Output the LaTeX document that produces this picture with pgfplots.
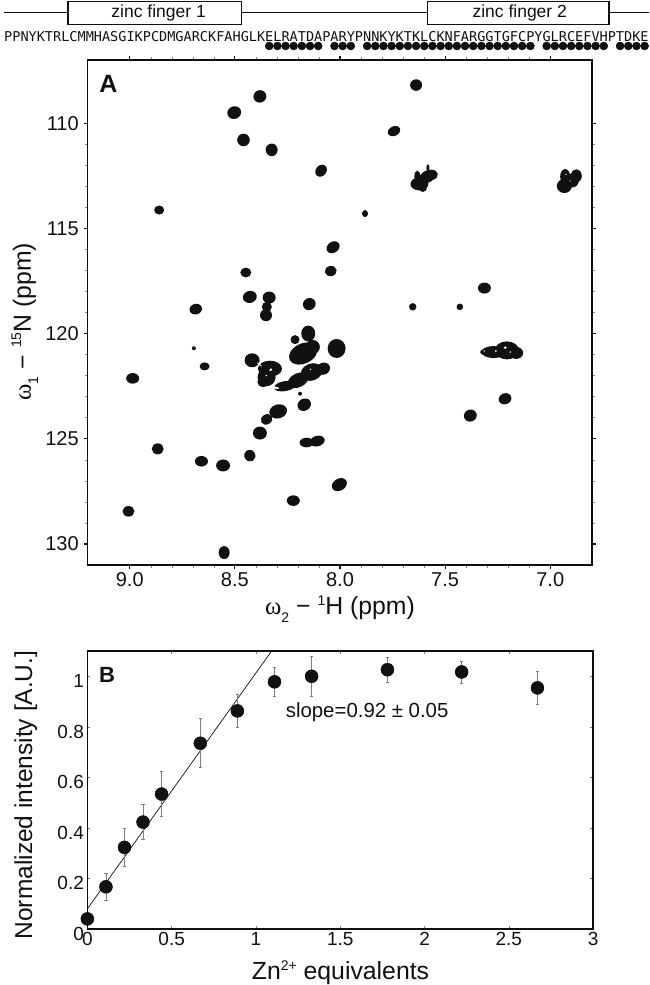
\documentclass[border=0pt]{standalone}
\usepackage{fontspec}
\setmainfont{Liberation Sans}
\newfontfamily\greek{Liberation Serif}
\newfontfamily\seqfont{DejaVu Sans Mono}
\usepackage{pgfplots}
\usepackage{pgfplotstable}
\pgfplotsset{compat=1.18}
\definecolor{ink}{HTML}{111111}

\newcommand{\fs}[1]{\fontsize{#1}{#1}\selectfont}
\newcommand{\supr}[1]{\raisebox{0.75ex}{\fs{14}#1}}
\newcommand{\subr}[1]{\raisebox{-0.55ex}{\fs{14}#1}}

% peak as a filled ellipse: radii in px, rotation in degrees
\pgfplotsset{peaks/.style={
  only marks, scatter,
  point meta=0, point meta min=0, point meta max=1,
  visualization depends on={\thisrow{a} \as \peakA},
  visualization depends on={\thisrow{b} \as \peakB},
  visualization depends on={\thisrow{r} \as \peakR},
  scatter/@pre marker code/.code={%
    \pgfpathellipse{\pgfpointorigin}{\pgfpointpolar{\peakR}{\peakA pt}}{\pgfpointpolar{\peakR+90}{\peakB pt}}%
    \pgfsetfillcolor{#1}\pgfusepathqfill
    \pgfinterruptpath\endpgfinterruptpath},
  scatter/@post marker code/.code={},
  mark=none}}

% 1H  15N  a  b  rot
\pgfplotstableread{
x y a b r
8.381 108.73 6.5 6.2 20
8.503 109.50 7.0 6.3 20
8.459 110.80 6.3 6.3 0
8.325 111.27 6.0 6.3 0
8.090 112.26 6.5 5.3 50
8.860 114.13 5.0 4.5 0
8.033 115.90 7.0 5.5 35
8.448 117.10 5.5 4.9 0
8.044 117.03 6.0 5.1 10
8.429 118.26 7.0 6.0 15
8.337 118.29 6.5 6.0 0
8.348 118.73 5.0 5.0 0
8.352 119.13 6.0 6.0 0
8.146 118.60 6.5 6.0 30
8.686 118.84 6.3 5.3 15
7.638 108.19 6.0 5.8 0
7.743 110.38 6.5 4.8 25
7.622 112.89 9.0 6.5 0
7.584 112.54 9.0 6.0 30
7.563 112.46 6.0 5.0 10
7.606 113.08 4.0 4.0 0
7.632 112.54 3.0 6.0 0
7.582 112.14 1.5 4.0 0
6.933 112.99 7.5 7.0 0
6.929 112.54 5.0 7.5 0
6.897 112.73 7.0 7.0 0
6.876 112.51 5.5 6.5 0
7.881 114.30 3.0 3.5 0
7.313 117.84 6.5 5.5 0
7.654 118.73 3.7 3.7 0
7.430 118.73 3.3 3.3 0
8.151 120.00 7.0 8.0 0
8.214 120.29 4.5 4.5 0
8.175 120.95 15.0 10.0 25
8.129 120.64 7.0 7.0 0
8.016 120.71 9.0 9.5 0
8.418 121.27 7.5 7.0 0
8.333 121.67 12.0 8.0 0
8.349 122.07 9.0 9.0 0
8.365 122.30 6.0 5.0 0
8.644 121.56 5.0 4.0 0
8.262 122.50 11.0 5.0 10
8.199 122.22 11.0 7.0 25
8.135 121.83 11.0 8.5 20
8.080 121.67 7.0 6.0 20
8.190 122.86 2.0 2.0 0
8.170 123.38 7.0 6.0 30
8.294 123.70 9.0 7.0 15
8.349 124.08 6.0 5.0 30
8.381 124.73 7.0 6.5 0
8.159 125.18 7.0 4.8 0
8.108 125.11 7.5 5.3 15
8.429 125.80 5.5 6.0 30
8.867 125.48 6.0 5.5 0
8.659 126.07 6.5 5.3 0
8.556 126.27 7.0 6.0 0
8.003 127.18 8.0 6.0 30
8.222 127.94 6.5 5.3 0
9.006 128.45 6.0 5.3 0
8.551 130.41 5.5 6.5 0
8.986 122.13 6.5 5.3 0
8.695 120.70 2.0 2.0 0
7.380 123.90 6.5 6.0 20
7.215 123.10 6.5 5.5 20
7.310 120.88 5.0 3.0 0
7.270 120.88 12.0 6.0 0
7.206 120.80 12.0 9.0 0
7.162 120.92 7.0 6.0 0
}\peaktab

% contour gaps inside the darkest peaks
\pgfplotstableread{
x y a b r
8.383 121.47 3.0 0.7 -40
8.329 121.72 1.8 1.2 40
8.310 122.57 4.5 1.2 -10
8.350 122.00 1.0 0.7 0
8.140 121.70 0.9 0.7 0
7.259 120.83 1.0 1.0 0
7.214 120.67 1.5 1.3 0
7.314 120.83 0.8 0.7 0
7.190 120.88 0.8 0.8 0
6.925 112.45 0.7 0.7 0
6.905 112.75 0.7 0.6 0
}\gaptab

\pgfplotstableread{
x y e
0    0.040 0.000
0.11 0.167 0.053
0.22 0.323 0.074
0.33 0.423 0.070
0.44 0.534 0.090
0.67 0.735 0.097
0.89 0.863 0.065
1.11 0.978 0.058
1.33 1.000 0.078
1.78 1.026 0.049
2.22 1.017 0.044
2.67 0.954 0.065
}\titration

\begin{document}
\begin{tikzpicture}[x=1pt,y=1pt]
\path[use as bounding box] (0,0) rectangle (649,985);

% sequence strip: x in residues, y in px from the top of the strip
\begin{axis}[
  at={(4pt,925pt)}, anchor=south west,
  scale only axis, width=645pt, height=60pt,
  xmin=0, xmax=79.04, ymin=0, ymax=60, y dir=reverse,
  axis lines=none, clip=false]
\addplot[ink, line width=1.9pt] coordinates {(0.05,12.5) (7.8,12.5)};
\addplot[ink, line width=1.9pt] coordinates {(29.1,12.5) (51.9,12.5)};
\addplot[ink, line width=1.9pt] coordinates {(74.1,12.5) (79.1,12.5)};
\addplot[ink, line width=1.9pt, fill=white] coordinates {(7.8,1.5) (29.1,1.5) (29.1,24.5) (7.8,24.5)} --cycle;
\addplot[ink, line width=1.9pt, fill=white] coordinates {(51.9,1.5) (74.1,1.5) (74.1,24.5) (51.9,24.5)} --cycle;
\node[font=\fs{17.5}, text=ink] at (axis cs:18.95,12.5) {zinc finger 1};
\node[font=\fs{17.5}, text=ink] at (axis cs:63.2,12.5) {zinc finger 2};
\node[font=\seqfont\fs{13.55}, text=ink, anchor=west, inner sep=0pt] at (axis cs:0,36.5)
  {PPNYKTRLCMMHASGIKPCDMGARCKFAHGLKELRATDAPARYPNNKYKTKLCKNFARGGTGFCPYGLRCEFVHPTDKE};
\addplot[only marks, mark=*, mark size=4pt, mark options={fill=ink, draw=none}] coordinates {
  (32.5,46) (33.5,46) (34.5,46) (35.5,46) (36.5,46) (37.5,46) (38.5,46)
  (40.5,46) (41.5,46) (42.5,46)
  (44.5,46) (45.5,46) (46.5,46) (47.5,46) (48.5,46) (49.5,46) (50.5,46)
  (51.5,46) (52.5,46) (53.5,46) (54.5,46) (55.5,46) (56.5,46) (57.5,46)
  (58.5,46) (59.5,46) (60.5,46) (61.5,46) (62.5,46) (63.5,46) (64.5,46)
  (66.5,46) (67.5,46) (68.5,46) (69.5,46) (70.5,46) (71.5,46) (72.5,46) (73.5,46)
  (75.5,46) (76.5,46) (77.5,46) (78.5,46)};
\end{axis}

% A: HSQC spectrum
\begin{axis}[
  at={(87.7pt,420pt)}, anchor=south west,
  scale only axis, width=504.6pt, height=505pt,
  xmin=6.8, xmax=9.2, ymin=107, ymax=131,
  x dir=reverse, y dir=reverse,
  axis line style={ink, line width=1.6pt},
  xtick={7,7.5,8,8.5,9}, ytick={110,115,120,125,130},
  minor x tick num=4, minor y tick num=4,
  tick align=outside, xtick pos=both, ytick pos=both,
  major tick length=4pt, minor tick length=2.5pt,
  major tick style={ink, line width=1.1pt},
  minor tick style={gray, line width=0.5pt},
  xticklabel style={font=\fs{20}, text=ink, /pgf/number format/.cd, fixed, fixed zerofill, precision=1, assume math mode=true},
  yticklabel style={font=\fs{20}, text=ink, xshift=-1.5pt, /pgf/number format/.cd, fixed, assume math mode=true},
  xlabel style={font=\fs{24.8}, text=ink, at={(axis description cs:0.5,-0.099)}, anchor=base},
  ylabel style={font=\fs{24.8}, text=ink, at={(axis description cs:-0.1124,0.482)}, anchor=base},
  xlabel={{\greek ω}\subr{2} − \supr{1}H (ppm)},
  ylabel={{\greek ω}\subr{1} − \supr{15}N (ppm)}]
\addplot[peaks=ink] table[x=x,y=y] {\peaktab};
\addplot[peaks=white] table[x=x,y=y] {\gaptab};
\node[font=\bfseries\fs{25}, text=ink, anchor=base west, inner sep=0pt] at (axis cs:9.145,108.55) {A};
\end{axis}

% B: titration
\begin{axis}[
  at={(87.4pt,56pt)}, anchor=south west,
  scale only axis, width=505.7pt, height=278pt,
  xmin=0, xmax=3, ymin=0, ymax=1.1,
  axis line style={ink, line width=1.6pt},
  xtick={0,0.5,1,1.5,2,2.5,3}, ytick={0,0.2,0.4,0.6,0.8,1},
  tick align=inside, xtick pos=both, ytick pos=both,
  major tick length=3pt,
  major tick style={gray, line width=0.6pt},
  xticklabel style={font=\fs{19}, text=ink, /pgf/number format/assume math mode=true},
  yticklabel style={font=\fs{19}, text=ink, yshift=-5pt, /pgf/number format/assume math mode=true},
  xlabel style={font=\fs{24.8}, text=ink, at={(axis description cs:0.5005,-0.183)}, anchor=base},
  ylabel style={font=\fs{24.5}, text=ink, at={(axis description cs:-0.1095,0.482)}, anchor=base},
  xlabel={Zn\supr{2+} equivalents},
  ylabel={Normalized intensity [A.U.]},
  clip=false]
\addplot[ink, line width=0.7pt] coordinates {(0,0.08) (1.093,1.1)};
\addplot[only marks, mark=*, mark size=6.5pt, mark options={fill=ink, draw=none},
  error bars/.cd, y dir=both, y explicit,
  error bar style={gray, line width=0.7pt},
  error mark options={rotate=90, mark size=1.8pt, gray, line width=0.6pt}]
  table[x=x, y=y, y error=e] {\titration};
\node[font=\fs{20.4}, text=ink, anchor=west, inner sep=0pt] at (axis cs:1.176,0.859) {slope=0.92 ± 0.05};
\node[font=\bfseries\fs{22}, text=ink, anchor=base west, inner sep=0pt] at (axis cs:0.068,0.975) {B};
\end{axis}
\end{tikzpicture}
\end{document}
